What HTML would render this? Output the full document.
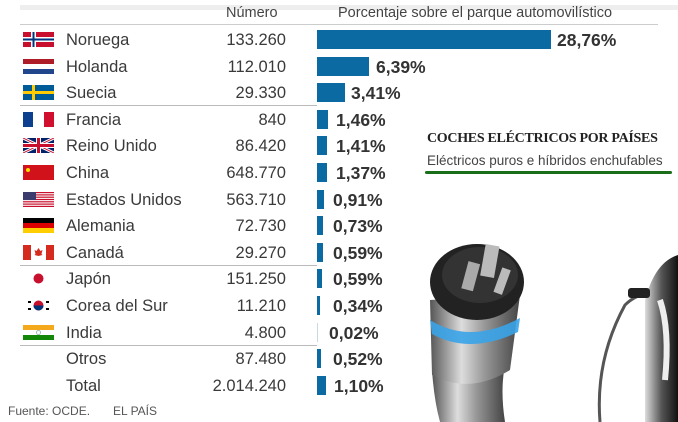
<!DOCTYPE html>
<html><head><meta charset="utf-8"><style>
body{margin:0;width:678px;height:422px;background:#fff;position:relative;overflow:hidden;font-family:"Liberation Sans",sans-serif;color:#333}
.r{position:absolute;left:0;width:678px;height:26px;line-height:28px}
.n{position:absolute;left:66px;font-size:16.5px;color:#3a3a3a}
.v{position:absolute;right:392px;font-size:16.5px;color:#3a3a3a}
.b{position:absolute;left:317px;top:4px;height:19px;background:#0a6aa1}
.p{position:absolute;font-size:17.5px;font-weight:bold;color:#333}
.f{position:absolute;left:23px;top:6px;width:31px;height:15px}
.hl{position:absolute;left:20px;width:297px;height:1px;background:#bbb}
</style></head><body>
<div style="position:absolute;left:20px;top:5px;width:658px;height:5px;background:#eee"></div>
<div style="position:absolute;left:226px;top:5px;font-size:14.5px;color:#444">Número</div>
<div style="position:absolute;left:338px;top:5px;font-size:14.5px;color:#444">Porcentaje sobre el parque automovilístico</div>
<div style="position:absolute;left:20px;top:24px;width:340px;height:1px;background:#ccc"></div>
<div style="position:absolute;left:300px;top:24px;width:358px;height:1px;background:#ccc"></div>
<div class="hl" style="top:105px"></div>
<div class="hl" style="top:265px"></div>
<div class="hl" style="top:345px"></div>

<div class="r" style="top:26px"><svg class="f" viewBox="0 0 31 15"><rect width="31" height="15" fill="#c8102e"/><rect x="8" width="5" height="15" fill="#fff"/><rect y="5" width="31" height="5" fill="#fff"/><rect x="9.5" width="2" height="15" fill="#003680"/><rect y="6.5" width="31" height="2" fill="#003680"/></svg><span class="n">Noruega</span><span class="v">133.260</span><div class="b" style="width:234px"></div><span class="p" style="left:557px">28,76%</span></div>
<div class="r" style="top:53px"><svg class="f" viewBox="0 0 31 15"><rect width="31" height="5" fill="#ae1c28"/><rect y="5" width="31" height="5" fill="#fff"/><rect y="10" width="31" height="5" fill="#21468b"/></svg><span class="n">Holanda</span><span class="v">112.010</span><div class="b" style="width:52px"></div><span class="p" style="left:376px">6,39%</span></div>
<div class="r" style="top:79px"><svg class="f" viewBox="0 0 31 15"><rect width="31" height="15" fill="#005b99"/><rect x="9" width="3" height="15" fill="#fecc00"/><rect y="6" width="31" height="3" fill="#fecc00"/></svg><span class="n">Suecia</span><span class="v">29.330</span><div class="b" style="width:28px"></div><span class="p" style="left:351px">3,41%</span></div>
<div class="r" style="top:106px"><svg class="f" viewBox="0 0 31 15"><rect width="10" height="15" fill="#0d3f8f"/><rect x="21" width="10" height="15" fill="#d0102e"/></svg><span class="n">Francia</span><span class="v">840</span><div class="b" style="width:11px"></div><span class="p" style="left:336px">1,46%</span></div>
<div class="r" style="top:132px"><svg class="f" viewBox="0 0 31 15"><rect width="31" height="15" fill="#012169"/><path d="M0 0L31 15M31 0L0 15" stroke="#fff" stroke-width="3"/><path d="M0 0L31 15M31 0L0 15" stroke="#c8102e" stroke-width="1"/><rect x="13" width="5" height="15" fill="#fff"/><rect y="5" width="31" height="5" fill="#fff"/><rect x="14" width="3" height="15" fill="#c8102e"/><rect y="6" width="31" height="3" fill="#c8102e"/></svg><span class="n">Reino Unido</span><span class="v">86.420</span><div class="b" style="width:10px"></div><span class="p" style="left:336px">1,41%</span></div>
<div class="r" style="top:159px"><svg class="f" viewBox="0 0 31 15"><rect width="31" height="15" fill="#d1121b"/><circle cx="5" cy="5" r="2" fill="#fd0"/></svg><span class="n">China</span><span class="v">648.770</span><div class="b" style="width:10px"></div><span class="p" style="left:336px">1,37%</span></div>
<div class="r" style="top:186px"><svg class="f" viewBox="0 0 31 15"><rect width="31" height="15" fill="#fff"/><g fill="#c8102e"><rect y="0" width="31" height="1.2"/><rect y="2.3" width="31" height="1.2"/><rect y="4.6" width="31" height="1.2"/><rect y="6.9" width="31" height="1.2"/><rect y="9.2" width="31" height="1.2"/><rect y="11.5" width="31" height="1.2"/><rect y="13.8" width="31" height="1.2"/></g><rect width="13" height="8" fill="#3c3b6e"/></svg><span class="n">Estados Unidos</span><span class="v">563.710</span><div class="b" style="width:7px"></div><span class="p" style="left:333px">0,91%</span></div>
<div class="r" style="top:212px"><svg class="f" viewBox="0 0 31 15"><rect width="31" height="5" fill="#000"/><rect y="5" width="31" height="5" fill="#dd0000"/><rect y="10" width="31" height="5" fill="#ffce00"/></svg><span class="n">Alemania</span><span class="v">72.730</span><div class="b" style="width:6px"></div><span class="p" style="left:333px">0,73%</span></div>
<div class="r" style="top:239px"><svg class="f" viewBox="0 0 31 15"><rect width="8" height="15" fill="#d52b1e"/><rect x="23" width="8" height="15" fill="#d52b1e"/><path d="M15.5 3l2 3 2-1-1 4 1 1-4 1-4-1 1-1-1-4 2 1z" fill="#d52b1e"/></svg><span class="n">Canadá</span><span class="v">29.270</span><div class="b" style="width:6px"></div><span class="p" style="left:333px">0,59%</span></div>
<div class="r" style="top:265px"><svg class="f" viewBox="0 0 31 15"><circle cx="15.5" cy="7.5" r="5" fill="#c8102e"/></svg><span class="n">Japón</span><span class="v">151.250</span><div class="b" style="width:5px"></div><span class="p" style="left:333px">0,59%</span></div>
<div class="r" style="top:292px"><svg class="f" viewBox="0 0 31 15"><circle cx="15.5" cy="7.5" r="5" fill="#c8102e"/><path d="M10.5 7.5a5 5 0 0 0 10 0z" fill="#003478"/><g fill="#000"><rect x="5" y="3" width="3" height="2"/><rect x="23" y="3" width="3" height="2"/><rect x="5" y="10" width="3" height="2"/><rect x="23" y="10" width="3" height="2"/></g></svg><span class="n">Corea del Sur</span><span class="v">11.210</span><div class="b" style="width:3px"></div><span class="p" style="left:333px">0,34%</span></div>
<div class="r" style="top:319px"><svg class="f" viewBox="0 0 31 15"><rect width="31" height="5" fill="#f4a81c"/><rect y="10" width="31" height="5" fill="#138808"/><circle cx="15.5" cy="7.5" r="2" fill="none" stroke="#8aa" stroke-width="0.8"/></svg><span class="n">India</span><span class="v">4.800</span><div class="b" style="width:1px;background:#c8d8e4"></div><span class="p" style="left:329px">0,02%</span></div>
<div class="r" style="top:345px"><span class="n">Otros</span><span class="v">87.480</span><div class="b" style="width:4px"></div><span class="p" style="left:333px">0,52%</span></div>
<div class="r" style="top:372px"><span class="n">Total</span><span class="v">2.014.240</span><div class="b" style="width:9px"></div><span class="p" style="left:334px">1,10%</span></div>

<div style="position:absolute;left:8px;top:404px;font-size:12px;color:#555">Fuente: OCDE.</div>
<div style="position:absolute;left:113px;top:404px;font-size:12px;color:#555">EL PAÍS</div>

<div style="position:absolute;left:427px;top:131px;font-family:'Liberation Serif',serif;font-weight:bold;font-size:14px;color:#222;letter-spacing:-0.3px">COCHES ELÉCTRICOS POR PAÍSES</div>
<div style="position:absolute;left:427px;top:153px;font-size:13.5px;color:#444">Eléctricos puros e híbridos enchufables</div>
<div style="position:absolute;left:425px;top:171px;width:247px;height:3px;background:#1a6e1a;border-radius:2px"></div>

<svg style="position:absolute;left:0;top:0" width="678" height="422">
<defs>
<linearGradient id="m" x1="0" x2="1"><stop offset="0" stop-color="#555"/><stop offset=".35" stop-color="#ddd"/><stop offset=".6" stop-color="#999"/><stop offset="1" stop-color="#444"/></linearGradient>
<linearGradient id="c" x1="0" x2="1"><stop offset="0" stop-color="#ddd"/><stop offset=".5" stop-color="#555"/><stop offset="1" stop-color="#111"/></linearGradient>
</defs>
<path d="M432 370 Q434 400 440 422 L505 422 Q500 390 505 365 Z" fill="url(#m)"/>
<path d="M430 300 L432 375 Q470 395 510 370 L520 295 Z" fill="url(#m)"/>
<path d="M430 320 Q470 345 520 318 L518 332 Q470 355 432 334 Z" fill="#3aa3e8" opacity=".9"/>
<ellipse cx="477" cy="282" rx="47" ry="38" fill="#222"/>
<ellipse cx="480" cy="275" rx="38" ry="28" fill="#333"/>
<rect x="483" y="245" width="14" height="32" fill="#bbb" transform="rotate(10 490 260)"/>
<rect x="465" y="262" width="12" height="28" fill="#aaa" transform="rotate(15 470 275)"/>
<rect x="498" y="268" width="9" height="26" fill="#bbb" transform="rotate(20 502 280)"/>
<path d="M600 422 Q595 360 625 305 Q640 290 660 295" fill="none" stroke="#555" stroke-width="3"/>
<path d="M645 422 L645 300 Q655 262 678 255 L678 422 Z" fill="url(#c)"/>
<rect x="628" y="288" width="22" height="10" rx="3" fill="#222"/>
<path d="M660 300 Q670 330 665 380" fill="none" stroke="#eee" stroke-width="6"/>
</svg>
</body></html>
